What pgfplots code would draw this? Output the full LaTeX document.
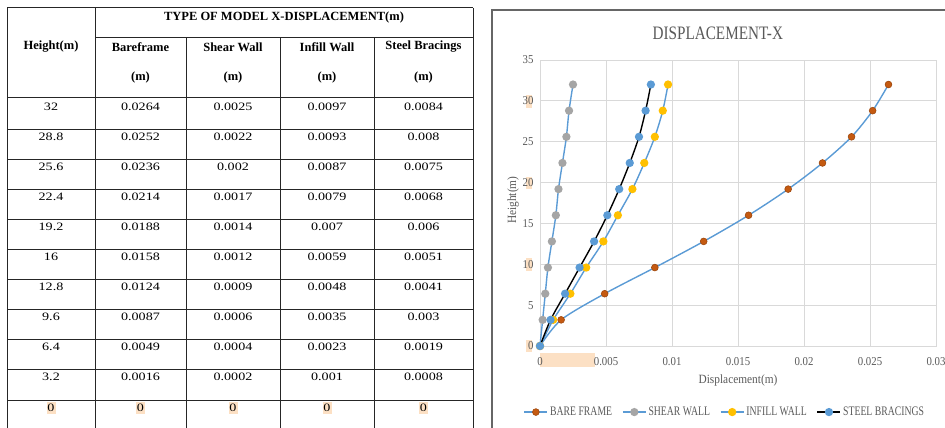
\documentclass[border=0pt]{standalone}
\usepackage{fontspec}
\setmainfont{Liberation Serif}
\newfontfamily\tabnum[FakeStretch=1.25]{Liberation Serif}
\newfontfamily\tickf[FakeStretch=0.9]{Liberation Serif}
\newfontfamily\legf[FakeStretch=0.75]{Liberation Serif}
\newfontfamily\titf[FakeStretch=0.8]{Liberation Serif}
\usepackage{pgfplots}
\pgfplotsset{compat=1.18}
\definecolor{lblue}{HTML}{5B9BD5}
\definecolor{bfill}{HTML}{C55A11}
\definecolor{bdraw}{HTML}{9E480E}
\definecolor{sgray}{HTML}{A5A5A5}
\definecolor{iyel}{HTML}{FFC000}
\definecolor{txtg}{HTML}{595959}
\definecolor{gridg}{HTML}{D9D9D9}
\definecolor{peach}{HTML}{FCE0C4}

\pgfplotstableread{
h bare shear infill steel
0 0 0 0 0
3.2 0.0016 0.0002 0.001 0.0008
6.4 0.0049 0.0004 0.0023 0.0019
9.6 0.0087 0.0006 0.0035 0.003
12.8 0.0124 0.0009 0.0048 0.0041
16 0.0158 0.0012 0.0059 0.0051
19.2 0.0188 0.0014 0.007 0.006
22.4 0.0214 0.0017 0.0079 0.0068
25.6 0.0236 0.002 0.0087 0.0075
28.8 0.0252 0.0022 0.0093 0.008
32 0.0264 0.0025 0.0097 0.0084
}\disp

\newcommand{\numf}{\fontsize{11.3}{12}\tabnum}
\newcommand{\hdf}{\fontsize{12.5}{13}\bfseries}

\begin{document}
\begin{tikzpicture}
\useasboundingbox (0pt,0pt) rectangle (945pt,-428pt);
\begin{scope}[x=1pt,y=-1pt]
  % ---------- table ----------
  \foreach \cx in {51,140.5,233,327,423.5}{
    \fill[peach] (\cx-4.5,402) rectangle (\cx+4.5,414);
  }
  \begin{scope}[line width=1pt, draw=black!85]
    \draw (7,8) -- (473,8);
    \draw (95,38) -- (473,38);
    \draw (7,97) -- (473,97);
    \foreach \yy in {129,159,189,219,249,279,309,339,369,400}{
      \draw (7,\yy) -- (473,\yy);
    }
    \draw (7,8) -- (7,440);
    \draw (95,8) -- (95,440);
    \draw (473,8) -- (473,440);
    \foreach \xx in {186,280,374}{
      \draw (\xx,38) -- (\xx,440);
    }
  \end{scope}
  \node[font=\hdf] at (284,17) {TYPE OF MODEL X-DISPLACEMENT(m)};
  \node[font=\hdf] at (51,47) {Height(m)};
  \node[font=\hdf] at (140.5,47) {Bareframe};
  \node[font=\hdf] at (233,47) {Shear Wall};
  \node[font=\hdf] at (327,47) {Infill Wall};
  \node[font=\hdf] at (423.5,47) {Steel Bracings};
  \foreach \cx in {140.5,233,327,423.5}{
    \node[font=\hdf] at (\cx,77) {(m)};
  }
  \foreach \yy/\a/\b/\c/\d/\e in {
    107/32/0.0264/0.0025/0.0097/0.0084,
    137/28.8/0.0252/0.0022/0.0093/0.008,
    167/25.6/0.0236/0.002/0.0087/0.0075,
    197/22.4/0.0214/0.0017/0.0079/0.0068,
    227/19.2/0.0188/0.0014/0.007/0.006,
    257/16/0.0158/0.0012/0.0059/0.0051,
    287/12.8/0.0124/0.0009/0.0048/0.0041,
    317/9.6/0.0087/0.0006/0.0035/0.003,
    347/6.4/0.0049/0.0004/0.0023/0.0019,
    377/3.2/0.0016/0.0002/0.001/0.0008,
    408/0/0/0/0/0}{
    \node[font=\numf] at (51,\yy) {\a};
    \node[font=\numf] at (140.5,\yy) {\b};
    \node[font=\numf] at (233,\yy) {\c};
    \node[font=\numf] at (327,\yy) {\d};
    \node[font=\numf] at (423.5,\yy) {\e};
  }
  % ---------- chart panel ----------
  \draw[black!60, line width=1.2pt] (492,440) -- (492,10) -- (950,10);
  \fill[peach] (540,353) rectangle (595,367);
  \fill[peach] (526,95) rectangle (532,108);
  \fill[peach] (526,177) rectangle (532,189);
  \fill[peach] (526,258) rectangle (532,271);
  \fill[peach] (526,340) rectangle (532,352);
\end{scope}

\begin{axis}[
  at={(540pt,-346pt)}, anchor=south west,
  scale only axis, width=396pt, height=286pt,
  xmin=0, xmax=0.03, ymin=0, ymax=35,
  xtick={0,0.005,0.01,0.015,0.02,0.025,0.03},
  xticklabels={0,0.005,0.01,0.015,0.02,0.025,0.03},
  scaled x ticks=false,
  ytick={0,5,...,35},
  major tick length=0pt,
  grid=major,
  major grid style={draw=gridg, line width=0.8pt},
  axis line style={draw=gridg, line width=0.8pt},
  /pgf/number format/assume math mode=true,
  tick label style={font=\fontsize{12}{12}\tickf, text=txtg},
  xticklabel style={yshift=-8pt},
  yticklabel style={xshift=-3pt},
  xlabel={Displacement(m)},
  ylabel={Height(m)},
  xlabel style={font=\fontsize{12.6}{13}\tickf, text=txtg, at={(axis description cs:0.5,-0.119)}, anchor=center},
  ylabel style={font=\fontsize{12.6}{13}\tickf, text=txtg, at={(axis description cs:-0.068,0.51)}, anchor=center},
  title={DISPLACEMENT-X},
  title style={font=\fontsize{19}{20}\titf, text=txtg, at={(axis description cs:0.449,1.073)}, anchor=center, yshift=0pt},
  legend columns=4,
  legend style={at={(axis description cs:0.467,-0.231)}, anchor=center, draw=none, fill=none,
    font=\fontsize{13}{13}\legf, text=txtg, /tikz/every even column/.append style={column sep=8pt}},
  legend image code/.code={\draw[mark repeat=2,mark phase=2,#1] plot coordinates {(0pt,0pt)(11.5pt,0pt)(23pt,0pt)};},
  every axis plot/.append style={smooth, line width=1.4pt, mark=*, mark size=3.4pt},
  clip=false,
]
\addplot[lblue, mark options={fill=bfill, draw=bdraw, line width=0.6pt}] table[x=bare,y=h]{\disp};
\addlegendentry{BARE FRAME}
\addplot[lblue, mark options={fill=sgray, draw=sgray}] table[x=shear,y=h]{\disp};
\addlegendentry{SHEAR WALL}
\addplot[lblue, mark options={fill=iyel, draw=iyel}] table[x=infill,y=h]{\disp};
\addlegendentry{INFILL WALL}
\addplot[black, mark options={fill=lblue, draw=lblue}] table[x=steel,y=h]{\disp};
\addlegendentry{STEEL BRACINGS}
\end{axis}
\end{tikzpicture}
\end{document}
